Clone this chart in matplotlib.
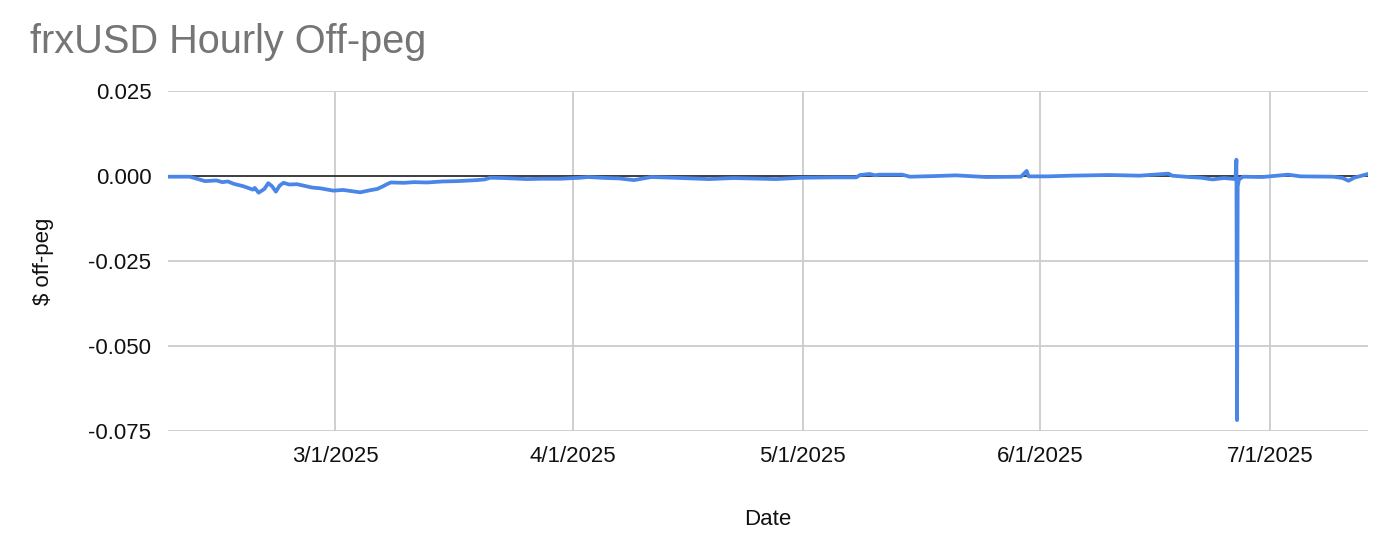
import matplotlib
matplotlib.use("Agg")
import matplotlib.pyplot as plt
import matplotlib.dates as mdates
import pandas as pd

# hourly off-peg readings (sampled at turning points off the chart)
timestamps = [
    "2025-02-07 04:00", "2025-02-10 00:00", "2025-02-11 06:00", "2025-02-12 00:00",
    "2025-02-13 12:00", "2025-02-14 06:00", "2025-02-15 00:00", "2025-02-15 18:00",
    "2025-02-17 00:00", "2025-02-18 06:00", "2025-02-18 12:00", "2025-02-19 00:00",
    "2025-02-19 18:00", "2025-02-20 06:00", "2025-02-20 18:00", "2025-02-21 06:00",
    "2025-02-21 18:00", "2025-02-22 06:00", "2025-02-23 00:00", "2025-02-24 00:00",
    "2025-02-25 00:00", "2025-02-26 00:00", "2025-02-27 00:00", "2025-02-28 18:00",
    "2025-03-02 00:00", "2025-03-03 00:00", "2025-03-04 06:00", "2025-03-05 12:00",
    "2025-03-06 12:00", "2025-03-07 06:00", "2025-03-07 18:00", "2025-03-08 06:00",
    "2025-03-10 00:00", "2025-03-11 06:00", "2025-03-13 00:00", "2025-03-15 00:00",
    "2025-03-17 00:00", "2025-03-19 12:00", "2025-03-20 12:00", "2025-03-21 06:00",
    "2025-03-23 00:00", "2025-03-26 00:00", "2025-03-28 00:00", "2025-03-30 12:00",
    "2025-04-02 00:00", "2025-04-03 00:00", "2025-04-05 12:00", "2025-04-07 00:00",
    "2025-04-09 00:00", "2025-04-10 00:00", "2025-04-11 06:00", "2025-04-14 00:00",
    "2025-04-18 18:00", "2025-04-22 00:00", "2025-04-27 12:00", "2025-05-01 00:00",
    "2025-05-05 00:00", "2025-05-08 00:00", "2025-05-08 12:00", "2025-05-09 18:00",
    "2025-05-10 12:00", "2025-05-11 00:00", "2025-05-14 00:00", "2025-05-15 00:00",
    "2025-05-18 12:00", "2025-05-21 00:00", "2025-05-25 00:00", "2025-05-29 12:00",
    "2025-05-30 06:00", "2025-05-30 12:00", "2025-06-02 00:00", "2025-06-05 00:00",
    "2025-06-10 00:00", "2025-06-14 00:00", "2025-06-17 18:00", "2025-06-18 06:00",
    "2025-06-20 12:00", "2025-06-22 00:00", "2025-06-23 12:00", "2025-06-25 00:00",
    "2025-06-26 12:00", "2025-06-26 15:00", "2025-06-26 17:00", "2025-06-26 19:00",
    "2025-06-26 23:00", "2025-06-27 12:00", "2025-06-30 00:00", "2025-07-03 09:00",
    "2025-07-05 00:00", "2025-07-09 06:00", "2025-07-10 12:00", "2025-07-11 06:00",
    "2025-07-12 00:00", "2025-07-13 19:00",
]
off_peg = [
    -0.0002, -0.0002, -0.0010, -0.0015,
    -0.0013, -0.0018, -0.0016, -0.0023,
    -0.0030, -0.0040, -0.0035, -0.0049,
    -0.0038, -0.0021, -0.0030, -0.0046,
    -0.0028, -0.0020, -0.0025, -0.0024,
    -0.0029, -0.0034, -0.0036, -0.0043,
    -0.0041, -0.0044, -0.0048, -0.0042,
    -0.0038, -0.0030, -0.0024, -0.0019,
    -0.0020, -0.0018, -0.0019, -0.0016,
    -0.0015, -0.0012, -0.0010, -0.0005,
    -0.0006, -0.0009, -0.0008, -0.0008,
    -0.0005, -0.0003, -0.0006, -0.0007,
    -0.0012, -0.0008, -0.0003, -0.0005,
    -0.0009, -0.0006, -0.0009, -0.0005,
    -0.0004, -0.0004, 0.0003, 0.0006,
    0.0002, 0.0004, 0.0004, -0.0002,
    0.0000, 0.0002, -0.0003, -0.0002,
    0.0015, -0.0001, -0.0001, 0.0001,
    0.0003, 0.0001, 0.0007, 0.0001,
    -0.0003, -0.0005, -0.0010, -0.0006,
    -0.0009, 0.0048, -0.0718, -0.0030,
    -0.0010, -0.0002, -0.0003, 0.0004,
    -0.0001, -0.0002, -0.0006, -0.0014,
    -0.0005, 0.0006,
]

y_ticks = [0.025, 0.0, -0.025, -0.05, -0.075]
y_tick_labels = ["0.025", "0.000", "-0.025", "-0.050", "-0.075"]
x_ticks = ["2025-03-01", "2025-04-01", "2025-05-01", "2025-06-01", "2025-07-01"]
x_tick_labels = ["3/1/2025", "4/1/2025", "5/1/2025", "6/1/2025", "7/1/2025"]

plt.rcParams["font.family"] = ["Liberation Sans", "DejaVu Sans"]

dates = pd.to_datetime(timestamps)

fig = plt.figure(figsize=(13.94, 5.52), dpi=100)
ax = fig.add_axes([0.1205, 0.2192, 0.8608, 0.6159])

ax.grid(True, color="#cccccc", linewidth=1.3)
ax.set_axisbelow(True)
ax.axhline(0, color="#333333", linewidth=1.3, zorder=2)
ax.plot(dates, off_peg, color="#4a86e8", linewidth=2.7,
        solid_joinstyle="round", solid_capstyle="round", zorder=3)

ax.set_xlim(pd.Timestamp("2025-02-07 04:00"), pd.Timestamp("2025-07-13 19:00"))
ax.set_ylim(-0.075, 0.025)
ax.set_yticks(y_ticks)
ax.set_yticklabels(y_tick_labels)
ax.set_xticks(pd.to_datetime(x_ticks))
ax.set_xticklabels(x_tick_labels)

for s in ax.spines.values():
    s.set_visible(False)
ax.tick_params(axis="both", length=0, labelsize=16, colors="#111111")
ax.tick_params(axis="y", pad=12)
ax.tick_params(axis="x", pad=11)

ax.set_xlabel("Date", fontsize=16, labelpad=30, color="#111111")
ax.set_ylabel("$ off-peg", fontsize=16, labelpad=25, color="#111111")

fig.text(30 / 1394, 1 - 53 / 552, "frxUSD Hourly Off-peg", fontsize=28.6,
         color="#757575", ha="left", va="baseline")

fig.savefig("out.png", dpi=100)
